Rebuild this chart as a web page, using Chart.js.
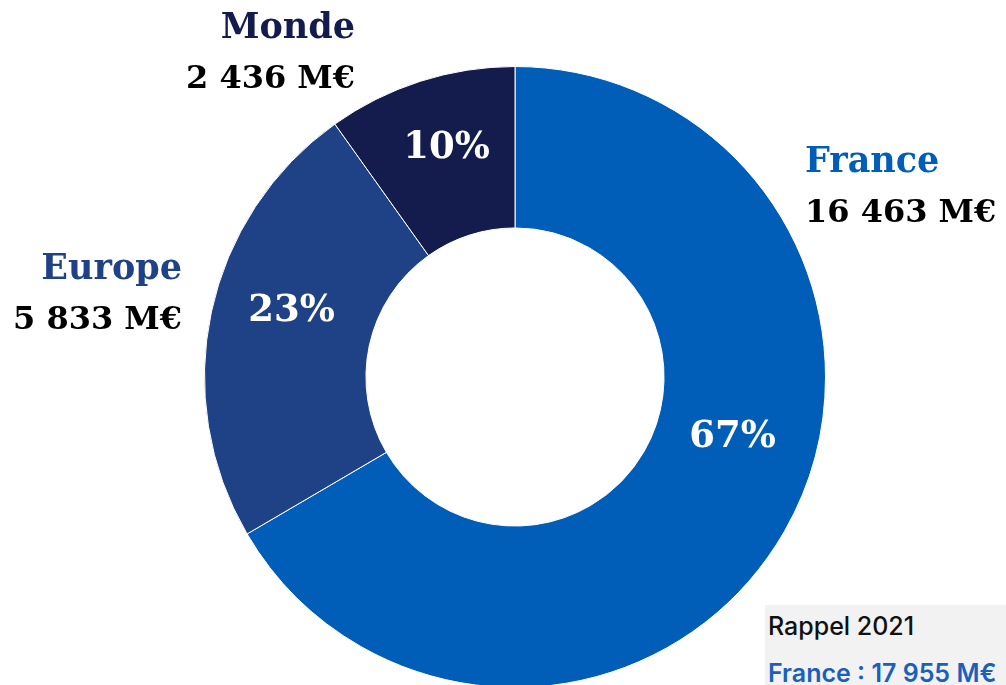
<!DOCTYPE html>
<html lang="fr">
<head>
<meta charset="utf-8">
<title>Répartition du chiffre d'affaires</title>
<script src="https://cdn.jsdelivr.net/npm/chart.js@4.4.1/dist/chart.umd.min.js"></script>
<style>
    html, body { margin: 0; padding: 0; background: #fff; overflow: hidden; }
    #wrap { position: relative; width: 1006px; height: 685px; }
    #rappel {
        position: absolute; left: 765px; top: 605px; width: 241px; height: 80px;
        background: #f2f2f2; font-family: Inter, "Open Sans", sans-serif; font-size: 25px; line-height: 30px;
    }
    #rappel .t1 { position: absolute; left: 3px; top: 6px; color: #111; font-weight: 500; }
    #rappel .t2 { position: absolute; left: 3px; top: 53px; color: #1a5fbd; font-weight: 600; white-space: nowrap; }
</style>
</head>
<body>
<div id="wrap">
    <canvas id="repartitionChart" width="1006" height="700"></canvas>
    <div id="rappel">
        <div class="t1">Rappel 2021</div>
        <div class="t2">France : 17 955 M€</div>
    </div>
</div>
<script>
// données
const zones = ['France', 'Europe', 'Monde'];
const montants = [16463, 5833, 2436];
const montantsTexte = ['16 463 M€', '5 833 M€', '2 436 M€'];
const pourcentTexte = ['67%', '23%', '10%'];
const couleurs = ['#005eb8', '#1f4287', '#141b4d'];

document.addEventListener("DOMContentLoaded", function () {

    // =========================
    // LABELS (inside + outside)
    // =========================
    const labelPos = [0.44, 0.55, 0.53]; // fraction le long de l'arc
    const labelDecal = [-4, 3, 9];        // décalage radial

    const labelsPlugin = {
        id: 'labelsPlugin',
        afterDatasetsDraw(chart) {
            const ctx = chart.ctx;
            const meta = chart.getDatasetMeta(0);
            ctx.save();
            ctx.textBaseline = 'middle';
            ctx.textAlign = 'center';
            ctx.fillStyle = '#ffffff';
            ctx.font = 'bold 37px "DejaVu Serif"';
            meta.data.forEach(function (arc, i) {
                const p = arc.getProps(['x', 'y', 'startAngle', 'endAngle', 'innerRadius', 'outerRadius'], true);
                const a = p.startAngle + (p.endAngle - p.startAngle) * labelPos[i];
                const r = (p.innerRadius + p.outerRadius) / 2 + labelDecal[i];
                ctx.fillText(pourcentTexte[i], p.x + Math.cos(a) * r, p.y + Math.sin(a) * r);
            });

            // étiquettes extérieures
            const ext = [
                { x: 805, y: 163, align: 'left' },
                { x: 182, y: 270, align: 'right' },
                { x: 355, y: 29, align: 'right' }
            ];
            ext.forEach(function (e, i) {
                ctx.textAlign = e.align;
                ctx.font = 'bold 35px "DejaVu Serif"';
                ctx.fillStyle = couleurs[i];
                ctx.fillText(zones[i], e.x, e.y);
                ctx.font = 'bold 32px "DejaVu Serif"';
                ctx.fillStyle = '#000000';
                ctx.fillText(montantsTexte[i], e.x, e.y + 51);
            });
            ctx.restore();
        }
    };

    // =========================
    // DOUGHNUT
    // =========================
    new Chart(document.getElementById("repartitionChart"), {
        type: 'doughnut',
        data: {
            labels: zones,
            datasets: [{
                data: montants,
                backgroundColor: couleurs,
                borderColor: '#ffffff',
                borderWidth: 1
            }]
        },
        options: {
            responsive: false,
            animation: false,
            cutout: '48%',
            layout: { padding: { left: 204, right: 180, top: 66, bottom: 12 } },
            plugins: {
                legend: { display: false },
                tooltip: { enabled: false }
            }
        },
        plugins: [labelsPlugin]
    });

});
</script>
</body>
</html>
